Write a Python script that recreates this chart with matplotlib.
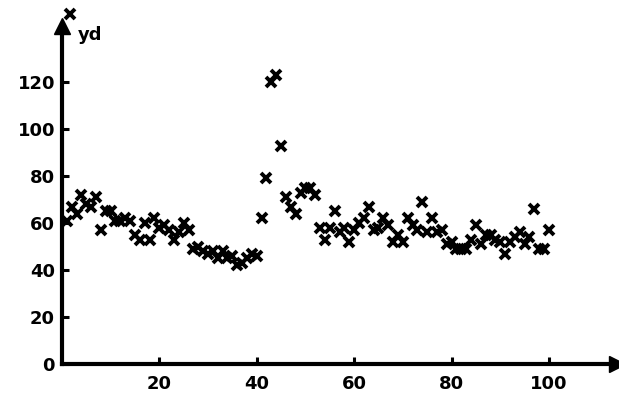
import numpy as np
import matplotlib
matplotlib.use("Agg")
import matplotlib.pyplot as plt

# values, one per x = 1..100
x = np.arange(1, 101)
yd = [61, 67, 64, 72, 68, 67, 71, 57, 65, 65,
      61, 61, 62, 61, 55, 53, 60, 53, 62, 58,
      59, 57, 53, 56, 60, 57, 49, 50, 48, 47,
      48, 45, 48, 45, 46, 42, 43, 45, 47, 46,
      62, 79, 120, 123, 93, 71, 67, 64, 73, 75,
      75, 72, 58, 53, 58, 65, 56, 58, 52, 57,
      60, 62, 67, 57, 58, 62, 59, 52, 55, 52,
      62, 59, 57, 69, 56, 62, 56, 57, 51, 52,
      49, 49, 49, 53, 59, 51, 55, 55, 53, 52,
      47, 52, 54, 56, 51, 54, 66, 49, 49, 57]
xticks = [20, 40, 60, 80, 100]
yticks = [0, 20, 40, 60, 80, 100, 120]

plt.rcParams['font.family'] = ['DejaVu Sans']
plt.rcParams['font.weight'] = 'bold'

fig = plt.figure(figsize=(6.19, 3.99), dpi=100)
ax = fig.add_axes([0.1, 0.088, 0.897, 0.847])

ax.plot(x, yd, 'x', color='black', markersize=6.5, mew=2.8, clip_on=False)

ax.set_xlim(0, 114)
ax.set_ylim(0, 144)
ax.set_xticks(xticks)
ax.set_yticks(yticks)

for s in ['top', 'right']:
    ax.spines[s].set_visible(False)
for s in ['left', 'bottom']:
    ax.spines[s].set_linewidth(3)

ax.tick_params(direction='in', length=5, width=2.2, labelsize=13)
ax.tick_params(axis='x', pad=8)
ax.tick_params(axis='y', pad=5)
for lab in ax.get_xticklabels() + ax.get_yticklabels():
    lab.set_fontweight('bold')

# arrow heads on the axes
ax.plot(1, 0, '>', color='black', markersize=11, transform=ax.transAxes, clip_on=False)
ax.plot(0, 1, '^', color='black', markersize=11, transform=ax.transAxes, clip_on=False)

# legend-like key above the y axis
ax.plot(1.6, 149, 'x', color='black', markersize=6.5, mew=2.8, clip_on=False)
ax.text(3.2, 140, 'yd', fontsize=13, fontweight='bold', va='center', ha='left')

fig.savefig('out.png', dpi=100)
